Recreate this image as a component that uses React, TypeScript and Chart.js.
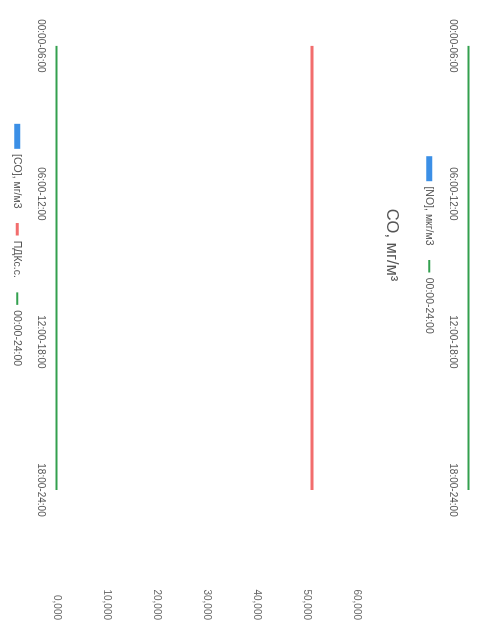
import React, { useEffect, useRef } from 'react';
import { Chart, registerables } from 'chart.js';

Chart.register(...registerables);
Chart.defaults.font.family = "'Liberation Sans', Arial, sans-serif";

// ---- data ----
const timeLabels = ['00:00-06:00', '06:00-12:00', '12:00-18:00', '18:00-24:00'];
const yTickValues = [0, 10, 20, 30, 40, 50, 60];

const coTitle = 'CO, мг/м³';
const coSeriesNames = ['[CO], мг/м3', 'ПДКс.с.', '00:00-24:00'];
const coValues = [0, 0, 0, 0];
const coLimit = [51, 51, 51, 51];
const coDailyAvg = [0, 0, 0, 0];

const noSeriesNames = ['[NO], мкг/м3', '00:00-24:00'];
const noValues = [0, 0, 0, 0];
const noDailyAvg = [0, 0, 0, 0];

// ---- styles ----
const BLUE = '#3b8fe6';
const RED = '#f26d6d';
const GREEN = '#33a04f';
const W = 623;
const H = 483;

const toPoints = (vals: number[]) => vals.map((y, i) => ({ x: i, y }));

function buildOptions(showYTicks: boolean, titleText: string | null): any {
  return {
    responsive: false,
    animation: false,
    devicePixelRatio: 1,
    layout: { padding: { top: 82, right: 3, bottom: 2, left: 0 } },
    scales: {
      x: {
        type: 'linear',
        offset: false,
        min: -0.31,
        max: timeLabels.length - 1,
        afterBuildTicks: (s: any) => {
          s.ticks = timeLabels.map((_, i) => ({ value: i }));
        },
        grid: { display: false, drawTicks: false, offset: false },
        border: { display: false },
        ticks: {
          callback: (v: any) => timeLabels[Math.round(Number(v))] ?? '',
          font: { size: 10 },
          color: '#555',
          padding: 10,
          maxRotation: 0,
          autoSkip: false,
        },
      },
      y: {
        position: 'right',
        min: 0,
        max: 60,
        afterBuildTicks: (s: any) => {
          s.ticks = yTickValues.map((v) => ({ value: v }));
        },
        afterFit: (s: any) => {
          s.width = 130;
        },
        grid: { display: false, drawTicks: false },
        border: { display: false },
        ticks: {
          display: showYTicks,
          callback: (v: any) => Number(v).toFixed(3).replace('.', ','),
          crossAlign: 'far',
          font: { size: 10 },
          color: '#666',
        },
      },
    },
    plugins: {
      title: {
        display: !!titleText,
        text: titleText ?? '',
        fullSize: false,
        font: { size: 16.5, weight: 'normal' },
        color: '#555',
        padding: { top: 0, bottom: 24 },
      },
      legend: {
        position: 'bottom',
        fullSize: false,
        labels: {
          usePointStyle: true,
          pointStyleWidth: 25,
          boxHeight: 6,
          padding: 2,
          color: '#555',
          font: { size: 10.5 },
          generateLabels: (chart: any) => {
            const items = (Chart.defaults.plugins.legend.labels as any).generateLabels(chart);
            return items
              .sort((a: any, b: any) => a.datasetIndex - b.datasetIndex)
              .map((it: any) => {
                const ds = chart.data.datasets[it.datasetIndex];
                return { ...it, pointStyle: ds.type === 'bar' ? 'rect' : 'dash' };
              });
          },
        },
      },
      tooltip: { enabled: false },
    },
  };
}

export default function App() {
  const coRef = useRef<HTMLCanvasElement>(null);
  const noRef = useRef<HTMLCanvasElement>(null);

  useEffect(() => {
    const co = new Chart(coRef.current as HTMLCanvasElement, {
      data: {
        datasets: [
          {
            type: 'bar',
            label: coSeriesNames[0],
            data: toPoints(coValues),
            backgroundColor: BLUE,
            borderWidth: 0,
          } as any,
          {
            type: 'line',
            label: coSeriesNames[1],
            data: toPoints(coLimit),
            borderColor: RED,
            backgroundColor: RED,
            borderWidth: 3,
            pointRadius: 0,
            clip: false,
          },
          {
            type: 'line',
            label: coSeriesNames[2],
            data: toPoints(coDailyAvg),
            borderColor: GREEN,
            backgroundColor: GREEN,
            borderWidth: 2,
            pointRadius: 0,
            clip: false,
          },
        ],
      },
      options: buildOptions(true, coTitle),
    } as any);

    const no = new Chart(noRef.current as HTMLCanvasElement, {
      data: {
        datasets: [
          {
            type: 'bar',
            label: noSeriesNames[0],
            data: toPoints(noValues),
            backgroundColor: BLUE,
            borderWidth: 0,
          } as any,
          {
            type: 'line',
            label: noSeriesNames[1],
            data: toPoints(noDailyAvg),
            borderColor: GREEN,
            backgroundColor: GREEN,
            borderWidth: 2,
            pointRadius: 0,
            clip: false,
          },
        ],
      },
      options: buildOptions(false, null),
    } as any);

    return () => {
      co.destroy();
      no.destroy();
    };
  }, []);

  return (
    <div
      style={{
        position: 'fixed',
        left: 0,
        top: 0,
        width: H,
        height: W,
        overflow: 'hidden',
        background: '#fff',
      }}
    >
      <div
        style={{
          position: 'absolute',
          left: 0,
          top: 0,
          width: W,
          height: H,
          transformOrigin: '0 0',
          transform: `translateX(${H}px) rotate(90deg)`,
          overflow: 'hidden',
        }}
      >
        <canvas ref={coRef} width={W} height={H} style={{ position: 'absolute', left: 0, top: 0 }} />
        <canvas ref={noRef} width={W} height={H} style={{ position: 'absolute', left: 0, top: -412 }} />
      </div>
    </div>
  );
}
